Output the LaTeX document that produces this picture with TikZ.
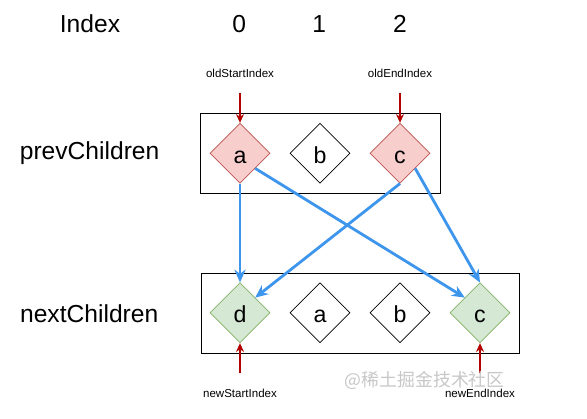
\documentclass[tikz,border=0pt]{standalone}
\usepackage{fontspec}
\setmainfont{Liberation Sans}
\newfontfamily\cjk{Noto Sans CJK SC}
\usetikzlibrary{arrows.meta,shapes.geometric}
\definecolor{oldfill}{HTML}{F8CECC}
\definecolor{oldline}{HTML}{B85450}
\definecolor{newfill}{HTML}{D5E8D4}
\definecolor{newline}{HTML}{82B366}
\definecolor{move}{HTML}{3D95EC}
\definecolor{pointer}{HTML}{B20000}

\begin{document}
\begin{tikzpicture}[
  big/.style={font=\fontsize{17.5}{20}\selectfont},
  small/.style={font=\fontsize{8.2}{10}\selectfont},
  frame/.style={draw, line width=.7pt, minimum width=6cm, minimum height=2cm},
  vnode/.style={diamond, draw, line width=.5pt, inner sep=0pt, minimum size=1.5cm,
    text height=.5cm, text depth=0pt, font=\fontsize{16.5}{18}\selectfont},
  oldnode/.style={vnode, fill=oldfill, draw=oldline},
  newnode/.style={vnode, fill=newfill, draw=newline},
  moved/.style={-{Stealth[length=3.2mm, width=2.8mm]}, draw=move, line width=2pt},
  index/.style={-{Stealth[length=2.2mm, width=2mm]}, draw=pointer, line width=1.1pt}
]
  \useasboundingbox (0,0) rectangle (14.675,-10.45);

  \node[big] (title) at (2.25,-0.6) {Index};
  \node[big] (i0) at (5.98,-0.6) {0};
  \node[big] (i1) at (7.98,-0.6) {1};
  \node[big] (i2) at (10.0,-0.6) {2};

  % old list
  \node[big] (prev) at (2.24,-3.83) {prevChildren};
  \node[frame] (prevbox) at (8.0,-3.83) {};
  \node[oldnode] (a) at (6.0,-3.83) {a};
  \node[vnode] (b) at (8.0,-3.83) {b};
  \node[oldnode] (c) at (10.0,-3.83) {c};
  \node[small] (oldstart) at (6.0,-1.83) {oldStartIndex};
  \node[small] (oldend) at (10.0,-1.83) {oldEndIndex};
  \coordinate (os) at (6.0,-2.33);
  \coordinate (oe) at (10.0,-2.33);
  \draw[index] (os) -- (a.north);
  \draw[index] (oe) -- (c.north);

  % new list
  \node[big] (next) at (2.23,-7.83) {nextChildren};
  \node[frame, minimum width=7.95cm] (nextbox) at (9.02,-7.83) {};
  \node[newnode] (d2) at (6.0,-7.82) {d};
  \node[vnode] (a2) at (8.0,-7.82) {a};
  \node[vnode] (b2) at (10.0,-7.82) {b};
  \node[newnode] (c2) at (12.0,-7.82) {c};
  \node[small] (newstart) at (6.0,-9.83) {newStartIndex};
  \node[small] (newend) at (12.0,-9.83) {newEndIndex};
  \coordinate (ns) at (6.0,-9.33);
  \coordinate (ne) at (12.0,-9.33);
  \draw[index] (ns) -- (d2.south);
  \draw[index] (ne) -- (c2.south);

  \draw[moved] (a.south) -- (d2.north);
  \draw[moved] (a.south east) -- (c2.north west);
  \draw[moved] (c.south) -- (d2.north east);
  \draw[moved] (c.south east) -- (c2.north);

  \node[font=\cjk\fontsize{12.7}{14}\selectfont, text=black!22] (mark) at (10.62,-9.5)
    {@稀土掘金技术社区};
\end{tikzpicture}
\end{document}
